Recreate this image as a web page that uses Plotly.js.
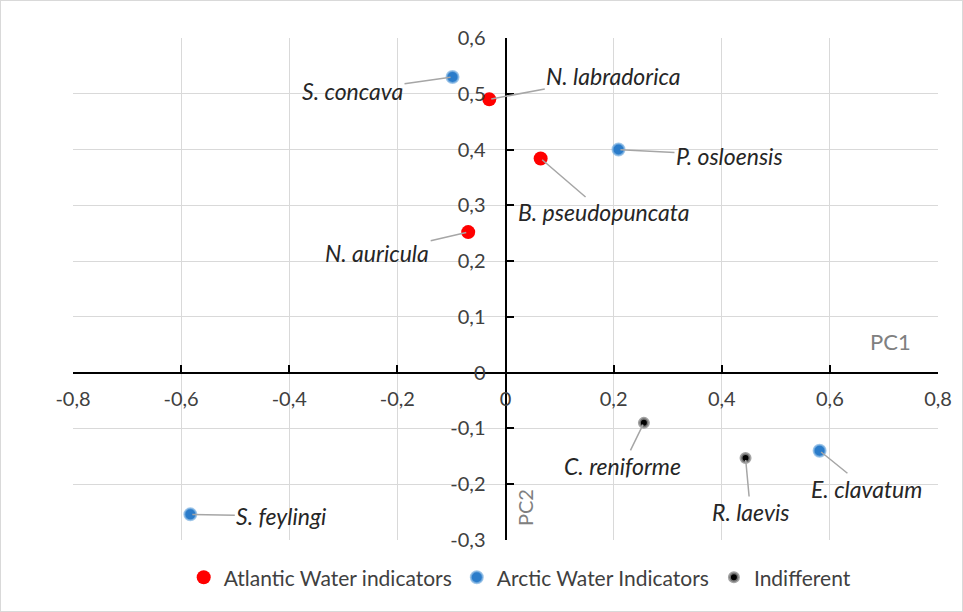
<!DOCTYPE html>
<html>
<head>
<meta charset="utf-8">
<script src="https://cdn.plot.ly/plotly-3.0.1.min.js"></script>
<style>
  html, body { margin: 0; padding: 0; background: #fff; }
  #chart { width: 961px; height: 610px; border: 1px solid #d9d9d9; }
</style>
</head>
<body>
<div id="chart"></div>
<script>
// ---- data ----
const species = ["S. concava", "N. labradorica", "P. osloensis", "B. pseudopuncata", "N. auricula",
                 "S. feylingi", "C. reniforme", "R. laevis", "E. clavatum"];
const pc1 = [-0.098, -0.030, 0.209, 0.065, -0.069, -0.583, 0.256, 0.444, 0.581];
const pc2 = [0.530, 0.490, 0.400, 0.384, 0.252, -0.254, -0.090, -0.153, -0.140];
const group = ["Arctic", "Atlantic", "Arctic", "Atlantic", "Atlantic", "Arctic", "Indifferent", "Indifferent", "Arctic"];
const groupKeys = ["Atlantic", "Arctic", "Indifferent"];
const groupNames = ["Atlantic Water indicators", "Arctic Water Indicators", "Indifferent"];
const xTickVals = [-0.8, -0.6, -0.4, -0.2, 0, 0.2, 0.4, 0.6, 0.8];
const xTickText = ["-0,8", "-0,6", "-0,4", "-0,2", "0", "0,2", "0,4", "0,6", "0,8"];
const yTickVals = [-0.3, -0.2, -0.1, 0, 0.1, 0.2, 0.3, 0.4, 0.5, 0.6];
const yTickText = ["-0,3", "-0,2", "-0,1", "0", "0,1", "0,2", "0,3", "0,4", "0,5", "0,6"];

// ---- styles ----
const markerStyles = {
  Atlantic: { color: "#ff0000", size: 14, line: { width: 0 } },
  Arctic: { color: "#2b7cca", size: 12, line: { color: "rgba(130,180,225,0.75)", width: 2 } },
  Indifferent: { color: "#000000", size: 9, line: { color: "rgba(140,140,140,0.8)", width: 3 } }
};
// label offsets (px) from each point to its label centre
const labelOffset = {
  "S. concava": [-100, 14],
  "N. labradorica": [124, -23],
  "P. osloensis": [111, 6],
  "B. pseudopuncata": [63, 54],
  "N. auricula": [-91, 21],
  "S. feylingi": [91, 2],
  "C. reniforme": [-21, 43],
  "R. laevis": [5, 54],
  "E. clavatum": [47, 38]
};

const traces = groupKeys.map((g, gi) => {
  const idx = group.map((v, i) => v === g ? i : -1).filter(i => i >= 0);
  return {
    type: "scatter",
    mode: "markers",
    name: groupNames[gi],
    x: idx.map(i => pc1[i]),
    y: idx.map(i => pc2[i]),
    text: idx.map(i => species[i]),
    marker: markerStyles[g],
    hoverinfo: "text+x+y"
  };
});

const labelFont = { family: "Lato, 'Open Sans', sans-serif", size: 23, color: "#262626", style: "italic" };
const annotations = species.map((s, i) => ({
  x: pc1[i], y: pc2[i], xref: "x", yref: "y",
  text: "<i>" + s + "</i>",
  font: labelFont,
  showarrow: true, arrowhead: 0, arrowwidth: 1.5, arrowcolor: "#a6a6a6",
  ax: labelOffset[s][0], ay: labelOffset[s][1],
  standoff: 2, startstandoff: 0
}));
annotations.push({
  x: 0.8, y: 0, xref: "x", yref: "y", xanchor: "right", yanchor: "bottom",
  xshift: -25, yshift: 16,
  text: "PC1", showarrow: false,
  font: { family: "Lato, sans-serif", size: 22, color: "#808080" }
});
annotations.push({
  x: 0, y: -0.3, xref: "x", yref: "y", xanchor: "left", yanchor: "bottom",
  xshift: 5, yshift: 12,
  text: "PC2", textangle: -90, showarrow: false,
  font: { family: "Lato, sans-serif", size: 20, color: "#808080" }
});

const tickFont = { family: "Lato, 'Open Sans', sans-serif", size: 20, color: "#404040" };
const layout = {
  width: 961, height: 610,
  margin: { l: 72, r: 24, t: 37, b: 71 },
  paper_bgcolor: "#ffffff", plot_bgcolor: "#ffffff",
  showlegend: true,
  legend: {
    orientation: "h", x: 0.517, xanchor: "center", y: -0.075, yanchor: "middle",
    font: { family: "Lato, 'Open Sans', sans-serif", size: 21, color: "#404040" },
    itemclick: false, tracegroupgap: 0, itemwidth: 30
  },
  xaxis: {
    range: [-0.8, 0.8], autorange: false,
    anchor: "free", position: 1 / 3,
    tickvals: xTickVals, ticktext: xTickText, tickfont: tickFont,
    showgrid: true, gridcolor: "#d9d9d9", gridwidth: 1,
    zeroline: false,
    showline: true, linecolor: "#000000", linewidth: 2,
    ticks: "inside", ticklen: 7, tickwidth: 2, tickcolor: "#000000",
    ticklabelstandoff: 8,
    automargin: false
  },
  yaxis: {
    range: [-0.3, 0.6], autorange: false,
    anchor: "free", position: 0.5,
    tickvals: yTickVals, ticktext: yTickText, tickfont: tickFont,
    showgrid: true, gridcolor: "#d9d9d9", gridwidth: 1,
    zeroline: false,
    showline: true, linecolor: "#000000", linewidth: 2,
    ticks: "inside", ticklen: 7, tickwidth: 2, tickcolor: "#000000",
    ticklabelstandoff: 15,
    automargin: false
  },
  annotations: annotations
};

Plotly.newPlot("chart", traces, layout, { displayModeBar: false, staticPlot: true });
</script>
</body>
</html>
